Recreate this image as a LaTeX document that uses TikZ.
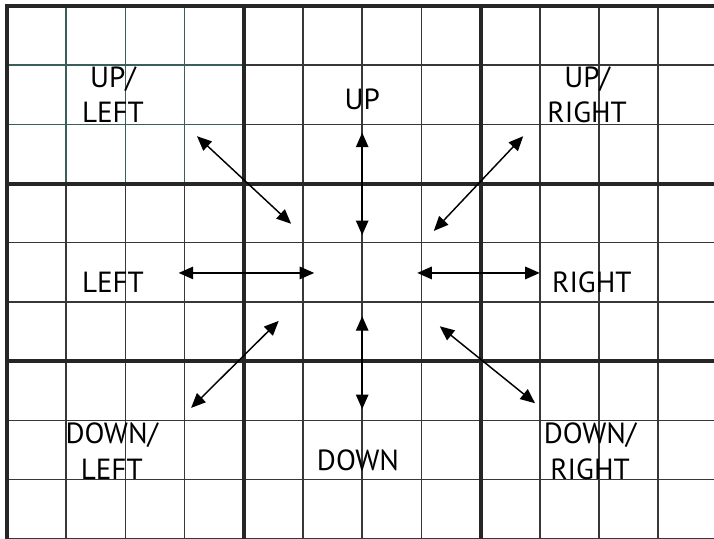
\documentclass[tikz,border=0pt]{standalone}
\usepackage{fontspec}
\setmainfont{PT Sans}
\usetikzlibrary{arrows.meta}
\definecolor{gridteal}{RGB}{58,95,90}
\definecolor{gridgray}{RGB}{55,55,55}
\begin{document}
\begin{tikzpicture}
                \tikzset{thinline/.style={draw=gridgray,line width=0.7pt}}
                \tikzset{thickline/.style={draw=black!85,line width=1.9pt}}
                \tikzset{dir/.style={{Triangle[length=7pt,width=6pt]}-{Triangle[length=7pt,width=6pt]},line width=0.7pt}}
                \tikzset{lab/.style={align=center,font=\fontsize{14}{17}\selectfont,inner sep=0pt}}
                \useasboundingbox (-0.118,-0.004) rectangle (11.943,9.101);
                % grid
                \draw[thinline] (0,0) grid (12,9);
                \draw[thinline,draw=gridteal] (0,6) grid (4,9);
                \draw[thickline] (0,0) -- (0,9) -- (12,9);
                \draw[thickline] (4,0) -- (4,9) (8,0) -- (8,9);
                \draw[thickline] (0,3) -- (12,3) (0,6) -- (12,6);
                % labels
                \node[lab] (ul) at (1.79,7.50) {UP/\\LEFT};
                \node[lab] (u) at (6.0,7.43) {UP};
                \node[lab] (ur) at (9.80,7.50) {UP/\\RIGHT};
                \node[lab] (l) at (1.79,4.34) {LEFT};
                \node[lab] (r) at (9.88,4.34) {RIGHT};
                \node[lab] (dl) at (1.77,1.48) {DOWN/\\LEFT};
                \node[lab] (d) at (5.93,1.33) {DOWN};
                \node[lab] (dr) at (9.85,1.48) {DOWN/\\RIGHT};
                % arrow ends
                \coordinate (ulout) at (3.21,6.80);
                \coordinate (ulin) at (4.80,5.32);
                \coordinate (uout) at (6.0,6.86);
                \coordinate (uin) at (6.0,5.13);
                \coordinate (urout) at (8.72,6.80);
                \coordinate (urin) at (7.21,5.20);
                \coordinate (lout) at (2.90,4.49);
                \coordinate (lin) at (5.19,4.49);
                \coordinate (rout) at (9.00,4.49);
                \coordinate (rin) at (6.93,4.49);
                \coordinate (dlout) at (3.11,2.21);
                \coordinate (dlin) at (4.59,3.68);
                \coordinate (dout) at (6.0,2.19);
                \coordinate (din) at (6.0,3.76);
                \coordinate (drout) at (8.92,2.29);
                \coordinate (drin) at (7.31,3.59);
                \draw[dir] (ulout) -- (ulin);
                \draw[dir] (uout) -- (uin);
                \draw[dir] (urout) -- (urin);
                \draw[dir] (lout) -- (lin);
                \draw[dir] (rout) -- (rin);
                \draw[dir] (dlout) -- (dlin);
                \draw[dir] (dout) -- (din);
                \draw[dir] (drout) -- (drin);
\end{tikzpicture}
\end{document}
